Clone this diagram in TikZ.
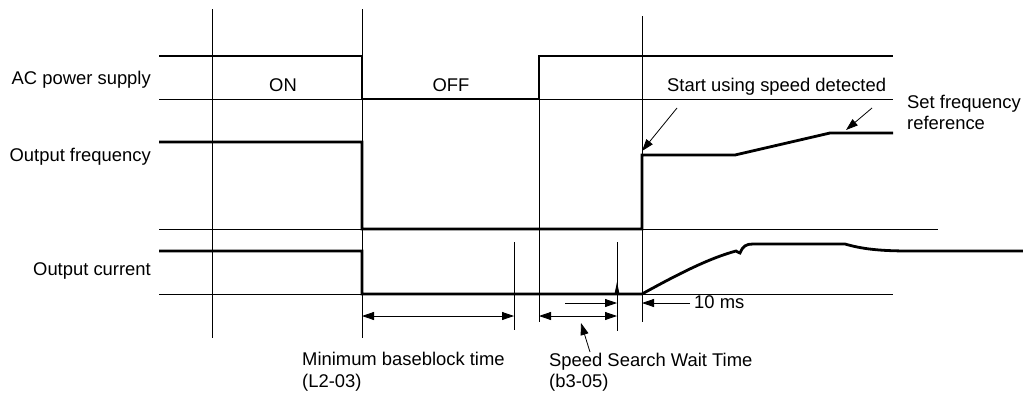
\documentclass[tikz,border=0pt]{standalone}
\usepackage{fontspec}
\setmainfont{Liberation Sans}
\usetikzlibrary{arrows.meta}
\begin{document}
\begin{tikzpicture}[x=1pt,y=-1pt,
  thinline/.style={line width=0.8pt},
  sig/.style={line width=2.8pt, line join=miter},
  lbl/.style={font=\fontsize{18.4}{22}\selectfont, inner sep=0pt},
  tip/.style={-{Triangle[length=12pt,width=8pt]}, line width=0.8pt},
  dimarrow/.style={{Triangle[length=12pt,width=8pt]}-{Triangle[length=12pt,width=8pt]}, line width=0.8pt}]
\useasboundingbox (0,0) rectangle (1023,394);
% vertical guide lines
\coordinate (v1t) at (212,9);   \coordinate (v1b) at (212,338);
\coordinate (v2t) at (362,9);   \coordinate (v2b) at (362,338);
\coordinate (v3t) at (514,242); \coordinate (v3b) at (514,330);
\coordinate (v4t) at (539,56);  \coordinate (v4b) at (539,322);
\coordinate (v5t) at (617,242); \coordinate (v5b) at (617,331);
\coordinate (v6t) at (642,16);  \coordinate (v6b) at (642,322);
\foreach \v in {v1,v2,v3,v4,v5,v6} \draw[thinline] (\v t) -- (\v b);
% horizontal reference lines
\coordinate (h1a) at (159,99);  \coordinate (h1b) at (893,99);
\coordinate (h2a) at (159,229); \coordinate (h2b) at (938,229);
\coordinate (h3a) at (159,294); \coordinate (h3b) at (893,294);
\foreach \h in {h1,h2,h3} \draw[thinline] (\h a) -- (\h b);
% signals
\draw[sig] (159,56) -- (362,56) -- (362,99) -- (539,99) -- (539,56) -- (893,56);
\draw[sig] (159,142) -- (362,142) -- (362,229) -- (642,229) -- (642,155) -- (735,155) -- (830,133) -- (893,133);
\draw[sig] (159,251) -- (362,251) -- (362,294) -- (642,294)
  .. controls (680,273) and (710,258) .. (736,251)
  .. controls (738,252) and (739,253) .. (740,253)
  .. controls (743,246) and (746,244) .. (753,244) -- (845,244)
  .. controls (862,249) and (880,251) .. (910,251) -- (1023,251);
\fill (614.5,294) -- (617,282) -- (619.5,294) -- cycle;
% labels
\node[lbl, anchor=base east] (acl) at (151,84) {AC power supply};
\node[lbl, anchor=base] (on) at (283,91) {ON};
\node[lbl, anchor=base] (off) at (451,91) {OFF};
\node[lbl, anchor=base east] (ofl) at (151,161) {Output frequency};
\node[lbl, anchor=base east] (ocl) at (151,275) {Output current};
\node[lbl, anchor=base west] (start) at (667,91) {Start using speed detected};
\node[lbl, anchor=base west] (set1) at (907,108) {Set frequency};
\node[lbl, anchor=base west] (set2) at (907,129) {reference};
\node[lbl, anchor=base west] (ten) at (694,308) {10 ms};
\node[lbl, anchor=base west] (mb1) at (302,365) {Minimum baseblock time};
\node[lbl, anchor=base west] (mb2) at (302,387) {(L2-03)};
\node[lbl, anchor=base west] (ss1) at (549,366) {Speed Search Wait Time};
\node[lbl, anchor=base west] (ss2) at (549,387) {(b3-05)};
% arrows
\coordinate (sa1) at (677,108); \coordinate (sa2) at (642,151);
\draw[tip] (sa1) -- (sa2);
\coordinate (fa1) at (872,108); \coordinate (fa2) at (846,130);
\draw[tip] (fa1) -- (fa2);
\coordinate (d1a) at (362,316); \coordinate (d1b) at (514,316);
\draw[dimarrow] (d1a) -- (d1b);
\coordinate (d2a) at (539,316); \coordinate (d2b) at (617,316);
\draw[dimarrow] (d2a) -- (d2b);
\coordinate (d3a) at (565,303); \coordinate (d3b) at (617,303);
\draw[tip] (d3a) -- (d3b);
\coordinate (d4a) at (690,303); \coordinate (d4b) at (642,303);
\draw[tip] (d4a) -- (d4b);
\coordinate (pa1) at (590,352); \coordinate (pa2) at (581,323);
\draw[tip] (pa1) -- (pa2);
\end{tikzpicture}
\end{document}
